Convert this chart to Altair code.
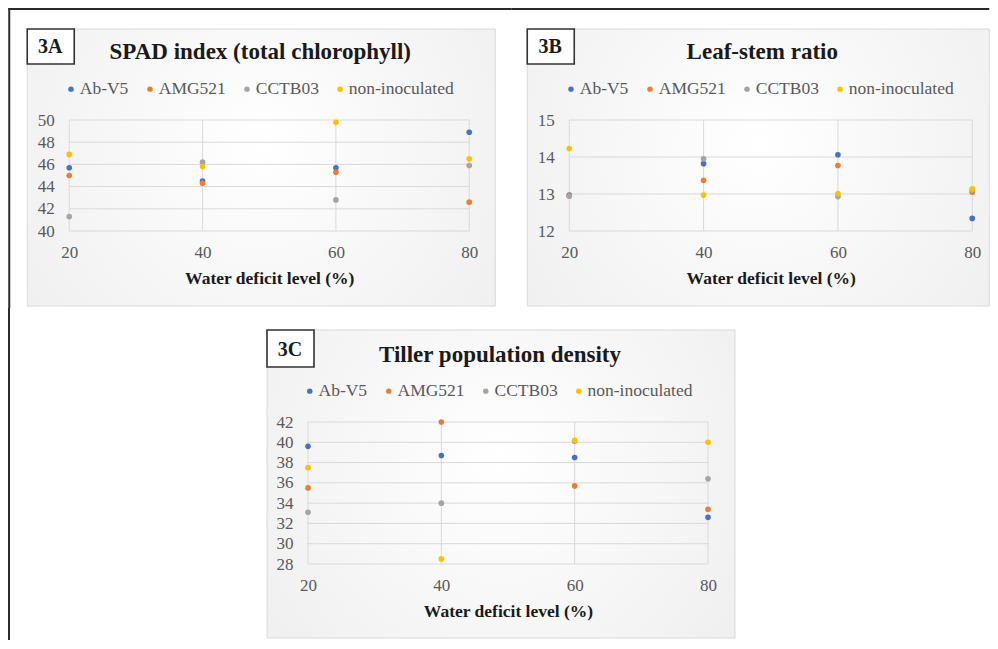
import altair as alt
import pandas as pd

# ---------------- data ----------------
levels = [20, 40, 60, 80]
treatments = ["Ab-V5", "AMG521", "CCTB03", "non-inoculated"]
colors = ["#4472C4", "#ED7D31", "#A5A5A5", "#FFC000"]

# 3A SPAD index (total chlorophyll)
spad_abv5 = [45.7, 44.5, 45.7, 48.9]
spad_amg521 = [45.0, 44.3, 45.3, 42.6]
spad_cctb03 = [41.3, 46.2, 42.8, 45.9]
spad_noninoc = [46.9, 45.8, 49.8, 46.5]
spad_ticks = [40, 42, 44, 46, 48, 50]

# 3B Leaf-stem ratio
ls_abv5 = [12.97, 13.82, 14.06, 12.34]
ls_amg521 = [12.95, 13.37, 13.77, 13.05]
ls_cctb03 = [12.94, 13.95, 12.93, 13.10]
ls_noninoc = [14.23, 12.97, 13.01, 13.14]
ls_ticks = [12, 13, 14, 15]

# 3C Tiller population density
tp_abv5 = [39.6, 38.7, 38.5, 32.6]
tp_amg521 = [35.5, 42.0, 35.7, 33.4]
tp_cctb03 = [33.1, 34.0, 40.1, 36.4]
tp_noninoc = [37.5, 28.5, 40.2, 40.0]
tp_ticks = [28, 30, 32, 34, 36, 38, 40, 42]

SERIF = "Liberation Serif"
LABEL_GREY = "#595959"
DARK = "#1a1a1a"
ONE = alt.Data(values=[{"k": 0}])


def long_df(series):
    rows = []
    for i, (t, vals) in enumerate(zip(treatments, series)):
        for lv, v in zip(levels, vals):
            rows.append({"level": lv, "treatment": t, "value": v, "order": i})
    return pd.DataFrame(rows)


def box(x, x2, y, y2, **kw):
    return alt.Chart(ONE).mark_rect(**kw).encode(
        x=alt.value(x), x2=alt.value(x2), y=alt.value(y), y2=alt.value(y2)
    )


def label_text(txt, x, y, size, **kw):
    return alt.Chart(ONE).mark_text(
        text=txt, font=SERIF, fontWeight="bold", fontSize=size, color=DARK,
        align="center", baseline="middle", **kw
    ).encode(x=alt.value(x), y=alt.value(y))


bg_fill = alt.RadialGradient(
    gradient="radial",
    stops=[alt.GradientStop(offset=0, color="#ffffff"),
           alt.GradientStop(offset=1, color="#ebebeb")],
    x1=0.5, y1=0.45, x2=0.5, y2=0.45, r1=0, r2=0.8,
)

x_axis = alt.Axis(
    values=levels, format="d", title="Water deficit level (%)",
    grid=False, domain=False, ticks=False, labelPadding=13,
    labelFlush=False, labelOverlap=False, zindex=1,
    labelFont=SERIF, labelFontSize=17, labelColor=LABEL_GREY,
    titleFont=SERIF, titleFontSize=17.5, titleFontWeight="bold",
    titleColor=DARK, titlePadding=9,
)


def y_axis(ticks):
    return alt.Axis(
        values=ticks, format="d", title=None,
        grid=False, domain=False, ticks=False, labelPadding=15,
        labelFlush=False, labelOverlap=False, zindex=1,
        labelFont=SERIF, labelFontSize=17, labelColor=LABEL_GREY,
    )


def panel(tag, title, series, yticks, w, h, rect, tagbox, tagpos, titlepos, extras):
    df = long_df(series)
    xs = alt.Scale(domain=[20, 80], nice=False, zero=False)
    ys = alt.Scale(domain=[yticks[0], yticks[-1]], nice=False, zero=False)
    ya = y_axis(yticks)

    background = box(*rect, fill=bg_fill, stroke="#d9d9d9", strokeWidth=1)

    grid_h = alt.Chart(pd.DataFrame({"value": yticks})).mark_rule(
        color="#d9d9d9", strokeWidth=1
    ).encode(y=alt.Y("value:Q", scale=ys, axis=ya), x=alt.value(0), x2=alt.value(w))

    grid_v = alt.Chart(pd.DataFrame({"level": levels})).mark_rule(
        color="#d9d9d9", strokeWidth=1
    ).encode(x=alt.X("level:Q", scale=xs, axis=x_axis), y=alt.value(0), y2=alt.value(h))

    points = alt.Chart(df).mark_circle(size=32, opacity=1).encode(
        x=alt.X("level:Q", scale=xs, axis=x_axis),
        y=alt.Y("value:Q", scale=ys, axis=ya),
        color=alt.Color("treatment:N",
                        scale=alt.Scale(domain=treatments, range=colors),
                        sort=treatments,
                        legend=alt.Legend(
                            orient="none", legendX=-7, legendY=-40,
                            direction="horizontal", columns=4, title=None,
                            padding=0,
                            symbolType="circle", symbolSize=30,
                            symbolStrokeWidth=0,
                            labelFont=SERIF, labelFontSize=17.5,
                            labelColor=LABEL_GREY, labelOffset=0,
                            columnPadding=12)),
        order=alt.Order("order:Q"),
    )

    tag_box = box(*tagbox, fill="#ffffff", stroke="#333333", strokeWidth=1.6)
    tag_txt = label_text(tag, tagpos[0], tagpos[1], 20)
    title_txt = label_text(title, titlepos[0], titlepos[1], 23)

    layers = [background, grid_h, grid_v, points, tag_box, tag_txt, title_txt] + extras
    return alt.layer(*layers).properties(width=w, height=h)


frame_col = "#2b2b2b"

A = panel(
    "3A", "SPAD index (total chlorophyll)",
    [spad_abv5, spad_amg521, spad_cctb03, spad_noninoc], spad_ticks,
    400, 111,
    rect=(-42, 426, -91, 186), tagbox=(-42, 5, -91, -56), tagpos=(-19, -73),
    titlepos=(191, -68),
    extras=[box(-61, 442, -112, -110, fill=frame_col),
            box(-61, -59, -112, 188, fill=frame_col)],
)

B = panel(
    "3B", "Leaf-stem ratio",
    [ls_abv5, ls_amg521, ls_cctb03, ls_noninoc], ls_ticks,
    403, 111,
    rect=(-42, 420, -91, 186), tagbox=(-42, 5, -91, -56), tagpos=(-19, -73),
    titlepos=(193, -68),
    extras=[box(-58, 420, -112, -110, fill=frame_col)],
)

C = panel(
    "3C", "Tiller population density",
    [tp_abv5, tp_amg521, tp_cctb03, tp_noninoc], tp_ticks,
    400, 142,
    rect=(-41, 427, -92, 216), tagbox=(-41, 6, -92, -55), tagpos=(-18, -72),
    titlepos=(192, -67),
    extras=[box(-300, -298, -114, 218, fill=frame_col),
            box(0, 443, 0, 1, opacity=0)],
)

top = alt.hconcat(A, B, spacing=0).resolve_scale(color="independent")
chart = alt.vconcat(top, C, spacing=0, center=True).resolve_scale(
    color="independent"
).properties(padding=0, background="#ffffff").configure_view(strokeWidth=0)

chart.save("out.html", embed_options={"renderer": "svg", "actions": False})
